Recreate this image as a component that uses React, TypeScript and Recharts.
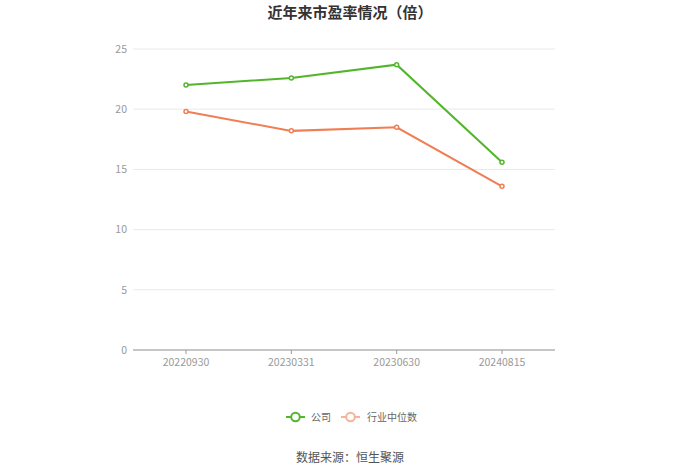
import React from 'react';
import { LineChart, Line, XAxis, YAxis, CartesianGrid } from 'recharts';

const categories = ['20220930', '20230331', '20230630', '20240815'];
const companyValues = [22.0, 22.6, 23.7, 15.6];
const industryValues = [19.8, 18.2, 18.5, 13.6];
const yTicks = [0, 5, 10, 15, 20, 25];

const GREEN = '#52b62c';
const ORANGE = '#f07e54';
const FONT = '"Noto Sans CJK SC", "Noto Sans", sans-serif';

const data = categories.map((c, i) => ({
  name: c,
  company: companyValues[i],
  industry: industryValues[i],
}));

function LegendIcon({ color }: { color: string }) {
  return (
    <svg width={19} height={12} style={{ display: 'block' }}>
      <line x1={0} y1={6} x2={19} y2={6} stroke={color} strokeWidth={2} />
      <circle cx={9.5} cy={6} r={4.3} fill="#fff" stroke={color} strokeWidth={2} />
    </svg>
  );
}

export default function App() {
  return (
    <div style={{ position: 'absolute', left: 0, top: 0, width: 700, height: 473, background: '#fff', fontFamily: FONT }}>
      <div style={{ position: 'absolute', left: 0, top: 2, width: 700, textAlign: 'center', fontSize: 15, fontWeight: 'bold', color: '#333', lineHeight: '20px' }}>
        近年来市盈率情况（倍）
      </div>
      <LineChart width={700} height={473} data={data} margin={{ top: 49, right: 145, bottom: 93, left: 0 }}>
        <CartesianGrid horizontal vertical={false} stroke="#e9e9e9" />
        <XAxis
          dataKey="name"
          padding={{ left: 53, right: 53 }}
          axisLine={{ stroke: '#999' }}
          tickLine={{ stroke: '#999' }}
          tickSize={4}
          tickMargin={5}
          tick={{ fill: '#999', fontSize: 10.5, fontFamily: FONT }}
        />
        <YAxis
          width={133}
          domain={[0, 25]}
          ticks={yTicks}
          axisLine={false}
          tickLine={false}
          tickSize={0}
          tickMargin={6}
          tick={{ fill: '#999', fontSize: 10.5, fontFamily: FONT }}
        />
        <Line
          type="linear"
          dataKey="company"
          stroke={GREEN}
          strokeWidth={2}
          dot={{ r: 2, stroke: GREEN, strokeWidth: 1.5, fill: '#fff' }}
          isAnimationActive={false}
        />
        <Line
          type="linear"
          dataKey="industry"
          stroke={ORANGE}
          strokeWidth={2}
          dot={{ r: 2, stroke: ORANGE, strokeWidth: 1.5, fill: '#fff' }}
          isAnimationActive={false}
        />
      </LineChart>
      <div style={{ position: 'absolute', left: 286, top: 409, display: 'flex', alignItems: 'center', fontSize: 10, color: '#666', lineHeight: '16px' }}>
        <LegendIcon color={GREEN} />
        <span style={{ marginLeft: 6 }}>公司</span>
        <span style={{ marginLeft: 10 }} />
        <LegendIcon color="#f5b49a" />
        <span style={{ marginLeft: 7 }}>行业中位数</span>
      </div>
      <div style={{ position: 'absolute', left: 0, top: 448, width: 700, textAlign: 'center', fontSize: 12, color: '#555', lineHeight: '18px' }}>
        数据来源：恒生聚源
      </div>
    </div>
  );
}
